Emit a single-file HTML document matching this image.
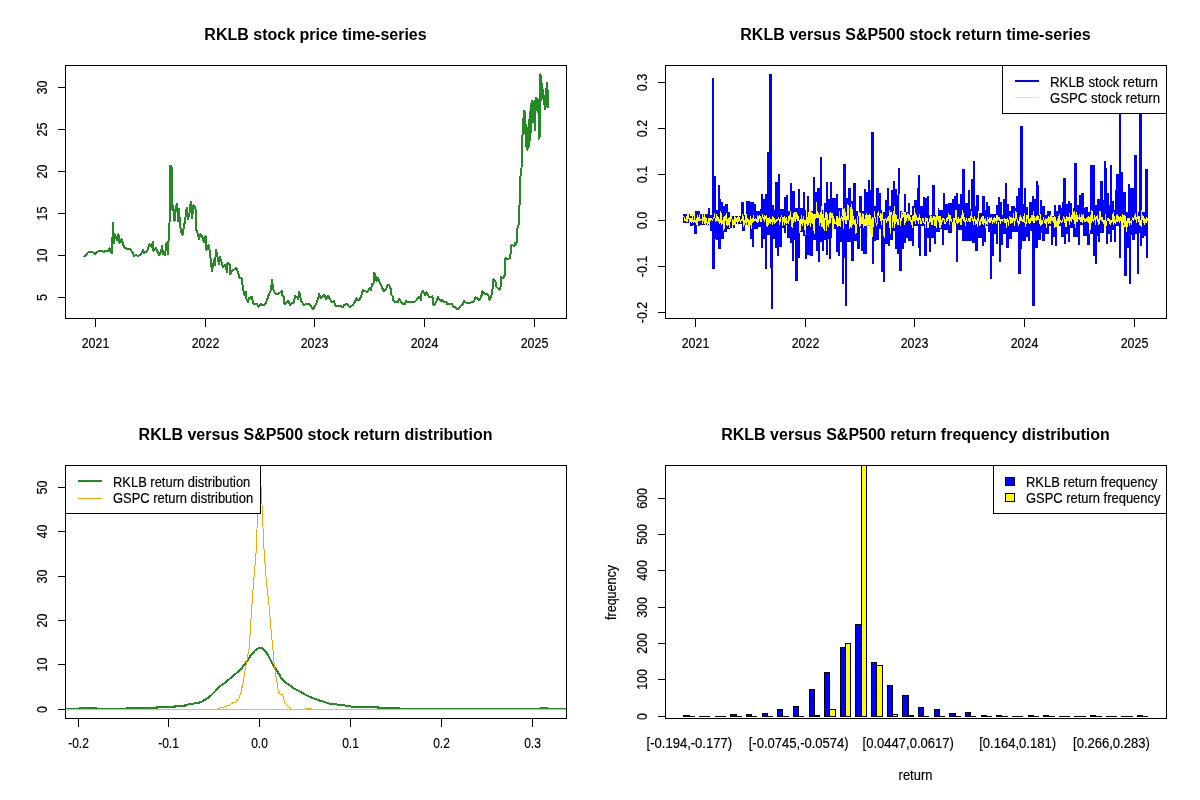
<!DOCTYPE html>
<html lang="en"><head><meta charset="utf-8"><title>RKLB versus S&amp;P500</title>
<style>
html,body{margin:0;padding:0;background:#fff;}
body{width:1200px;height:800px;overflow:hidden;}
svg{display:block;font-family:"Liberation Sans",sans-serif;fill:#000;}
svg text.r{stroke:#000;stroke-width:0.18px;}
svg line,svg rect,svg polyline,svg path{shape-rendering:crispEdges;}
</style></head><body>
<svg width="1200" height="800" viewBox="0 0 1200 800">
<rect x="0" y="0" width="1200" height="800" fill="#fff" stroke="none"/>
<defs>
<clipPath id="c1"><rect x="65" y="65" width="502" height="254"/></clipPath>
<clipPath id="c2"><rect x="665" y="65" width="502" height="254"/></clipPath>
<clipPath id="c3"><rect x="65" y="465" width="502" height="254"/></clipPath>
<clipPath id="c4"><rect x="665" y="465" width="502" height="254"/></clipPath>
</defs>
<text transform="translate(315.5 40)" font-size="16" text-anchor="middle" font-weight="bold">RKLB stock price time-series</text>
<g clip-path="url(#c1)">
<polyline points="84.00,257.00 88.00,252.50 90.00,251.80 93.00,252.50 95.00,254.00 98.00,251.50 102.00,251.20 104.00,252.00 106.00,250.50 108.00,251.00 109.50,248.00 110.50,251.50 112.00,253.00 113.00,222.50 114.00,243.00 115.00,235.00 117.00,240.00 118.50,234.50 119.50,243.00 121.50,239.50 124.00,247.00 127.00,249.00 130.00,249.00 132.00,251.50 134.00,256.00 136.00,255.00 138.50,256.00 141.00,254.00 143.00,250.00 144.00,253.00 147.00,251.50 149.50,244.00 151.50,247.00 153.00,241.50 153.50,251.00 156.00,248.00 159.00,255.00 161.00,252.00 162.00,245.50 163.00,254.00 165.00,255.00 166.50,243.00 168.00,254.00 168.50,241.00 169.50,225.00 170.00,165.50 171.50,166.00 172.00,183.00 172.50,210.00 173.00,206.00 174.50,221.00 175.50,209.00 177.00,203.50 178.00,221.00 179.00,209.00 180.00,225.00 181.50,233.00 182.50,235.00 183.50,229.00 185.00,221.00 186.80,207.50 188.00,219.00 189.50,213.00 190.80,202.00 192.00,218.00 193.50,205.00 195.00,206.50 196.00,212.00 196.30,230.00 197.50,233.00 199.00,239.00 200.50,234.00 202.00,236.00 204.00,242.00 205.50,236.00 206.50,250.00 208.50,245.00 210.00,253.00 212.00,271.00 214.00,260.00 215.00,265.00 216.00,249.50 219.00,264.00 220.00,257.00 223.00,267.00 225.00,265.00 227.00,272.00 227.50,263.00 229.50,264.00 230.00,274.00 233.00,270.00 236.50,268.00 238.00,272.00 239.50,278.00 241.50,278.00 243.00,289.00 244.50,295.00 246.00,292.00 246.50,299.00 248.00,302.00 249.00,298.00 252.00,297.00 253.00,303.00 254.00,304.50 257.00,304.00 258.50,307.00 261.00,304.00 263.00,305.50 265.50,303.50 267.00,300.00 269.00,294.00 271.00,290.00 272.00,279.50 273.00,289.00 275.00,293.00 277.00,294.50 280.00,292.50 282.00,290.50 282.50,296.00 284.00,297.00 284.50,304.00 286.50,303.00 288.00,300.50 290.00,305.00 292.00,303.00 294.00,302.50 295.00,296.00 297.50,297.00 298.00,299.00 299.20,291.50 300.50,298.00 301.50,301.50 304.00,305.00 306.50,304.00 309.00,304.00 311.50,307.00 313.00,309.00 315.00,306.00 317.00,302.00 318.50,297.00 319.00,293.50 320.00,297.50 322.00,297.50 324.00,294.50 326.00,299.00 328.00,296.00 330.00,299.00 332.00,302.50 334.00,301.00 335.00,305.50 340.00,305.50 343.00,307.50 344.00,305.00 347.00,304.00 349.00,306.50 350.50,306.50 353.00,305.00 355.00,301.50 356.50,298.00 358.00,300.50 360.00,299.00 361.50,295.00 363.00,290.00 365.00,291.00 367.50,292.00 369.50,288.50 371.00,290.00 372.00,284.00 373.50,283.50 374.00,272.50 375.50,276.00 376.50,281.00 378.00,278.00 380.00,283.00 382.00,287.00 383.50,291.00 386.00,289.50 387.50,285.00 389.00,284.50 390.50,288.50 391.50,295.00 393.00,296.50 393.50,301.00 395.50,302.50 398.00,302.00 399.00,299.00 401.00,301.50 402.50,304.00 405.00,304.00 406.00,301.00 408.00,302.00 414.00,302.50 416.50,300.00 419.00,296.50 421.00,300.00 421.50,293.00 423.00,290.50 425.00,295.50 426.50,292.00 429.00,297.00 432.50,296.50 433.00,304.50 435.00,304.50 438.00,297.00 440.50,301.00 442.00,300.00 444.00,302.00 446.00,301.50 447.50,304.50 450.00,304.00 452.00,304.00 453.00,306.50 455.00,307.00 456.50,309.00 458.50,308.50 461.00,305.50 463.00,304.00 464.00,301.00 466.00,302.50 470.00,303.00 474.00,301.50 475.50,297.00 479.00,300.00 481.00,297.50 482.50,291.50 484.50,294.00 488.00,294.50 489.50,300.00 491.50,295.00 492.50,289.50 493.50,279.00 495.50,282.00 496.50,287.00 499.50,290.00 500.50,287.00 501.00,277.00 503.00,278.00 505.00,275.00 505.50,258.00 507.50,259.00 510.00,258.00 511.00,250.00 511.50,245.00 514.50,246.00 515.00,242.50 516.50,244.00 517.00,230.00 518.50,225.00 519.30,215.50 520.00,180.00 521.50,168.00 522.00,144.00 523.00,126.00 524.00,110.50 524.80,112.00 525.20,133.00 525.80,125.00 526.30,146.00 527.00,132.00 527.50,149.70 528.30,128.00 528.80,146.00 529.30,120.00 529.80,140.00 530.30,112.00 530.80,132.00 531.30,104.00 531.80,122.00 532.00,100.50 532.60,118.00 533.20,102.00 533.80,122.00 534.30,104.00 534.70,130.50 535.20,103.00 535.75,97.50 536.30,108.00 536.80,99.00 537.30,110.00 537.80,101.00 538.30,112.00 538.60,100.00 538.75,138.75 539.30,108.00 539.70,136.00 540.10,92.00 540.50,74.25 541.00,100.00 541.30,80.00 541.80,92.00 542.30,84.00 542.80,98.00 543.30,90.00 543.80,104.00 544.30,96.00 544.80,108.00 545.20,109.50 545.60,92.00 546.00,106.00 546.70,82.50 547.20,104.00 547.60,90.00 547.90,107.00 548.00,100.00" fill="none" stroke="#228B22" stroke-width="2" stroke-linejoin="round" />
</g>
<rect x="65.5" y="65.5" width="501" height="253" fill="none" stroke="#000" stroke-width="1"/>
<line x1="95.5" y1="318" x2="95.5" y2="326.5" stroke="#000" stroke-width="1"/>
<text transform="translate(95.5 347.5) scale(0.87 1)" font-size="14.3" text-anchor="middle" class="r">2021</text>
<line x1="205.5" y1="318" x2="205.5" y2="326.5" stroke="#000" stroke-width="1"/>
<text transform="translate(205.5 347.5) scale(0.87 1)" font-size="14.3" text-anchor="middle" class="r">2022</text>
<line x1="314.5" y1="318" x2="314.5" y2="326.5" stroke="#000" stroke-width="1"/>
<text transform="translate(314.5 347.5) scale(0.87 1)" font-size="14.3" text-anchor="middle" class="r">2023</text>
<line x1="424.5" y1="318" x2="424.5" y2="326.5" stroke="#000" stroke-width="1"/>
<text transform="translate(424.5 347.5) scale(0.87 1)" font-size="14.3" text-anchor="middle" class="r">2024</text>
<line x1="534.5" y1="318" x2="534.5" y2="326.5" stroke="#000" stroke-width="1"/>
<text transform="translate(534.5 347.5) scale(0.87 1)" font-size="14.3" text-anchor="middle" class="r">2025</text>
<line x1="57.5" y1="297.5" x2="65.5" y2="297.5" stroke="#000" stroke-width="1"/>
<text transform="translate(47.3 297.5) rotate(-90) scale(0.87 1)" font-size="14.3" text-anchor="middle" class="r">5</text>
<line x1="57.5" y1="255.5" x2="65.5" y2="255.5" stroke="#000" stroke-width="1"/>
<text transform="translate(47.3 255.5) rotate(-90) scale(0.87 1)" font-size="14.3" text-anchor="middle" class="r">10</text>
<line x1="57.5" y1="213.5" x2="65.5" y2="213.5" stroke="#000" stroke-width="1"/>
<text transform="translate(47.3 213.5) rotate(-90) scale(0.87 1)" font-size="14.3" text-anchor="middle" class="r">15</text>
<line x1="57.5" y1="171.5" x2="65.5" y2="171.5" stroke="#000" stroke-width="1"/>
<text transform="translate(47.3 171.5) rotate(-90) scale(0.87 1)" font-size="14.3" text-anchor="middle" class="r">20</text>
<line x1="57.5" y1="129.5" x2="65.5" y2="129.5" stroke="#000" stroke-width="1"/>
<text transform="translate(47.3 129.5) rotate(-90) scale(0.87 1)" font-size="14.3" text-anchor="middle" class="r">25</text>
<line x1="57.5" y1="87.5" x2="65.5" y2="87.5" stroke="#000" stroke-width="1"/>
<text transform="translate(47.3 87.5) rotate(-90) scale(0.87 1)" font-size="14.3" text-anchor="middle" class="r">30</text>
<text transform="translate(915.5 40)" font-size="16" text-anchor="middle" font-weight="bold">RKLB versus S&amp;P500 stock return time-series</text>
<g clip-path="url(#c2)">
<path d="M683 214h1v9h-1zM684 214h1v9h-1zM685 214h1v9h-1zM686 214h1v9h-1zM687 214h1v9h-1zM688 214h1v9h-1zM689 214h1v9h-1zM690 216h1v10h-1zM691 216h1v10h-1zM692 216h1v10h-1zM693 216h1v9h-1zM694 211h1v23h-1zM695 211h1v23h-1zM696 211h1v23h-1zM697 211h1v15h-1zM698 211h1v15h-1zM699 211h1v15h-1zM700 214h1v11h-1zM701 214h1v11h-1zM702 214h1v11h-1zM703 214h1v11h-1zM704 214h1v11h-1zM705 214h1v11h-1zM706 214h1v11h-1zM707 214h1v11h-1zM708 208h1v17h-1zM709 208h1v17h-1zM710 215h1v16h-1zM711 215h1v16h-1zM712 78h1v191h-1zM713 78h1v191h-1zM714 176h1v93h-1zM715 176h1v63h-1zM716 210h1v30h-1zM717 210h1v30h-1zM718 185h1v64h-1zM719 185h1v64h-1zM720 199h1v50h-1zM721 202h1v37h-1zM722 202h1v37h-1zM723 206h1v33h-1zM724 206h1v26h-1zM725 204h1v28h-1zM726 204h1v28h-1zM727 204h1v25h-1zM728 212h1v17h-1zM729 212h1v17h-1zM730 216h1v12h-1zM731 216h1v12h-1zM732 216h1v12h-1zM733 216h1v12h-1zM734 216h1v12h-1zM735 216h1v8h-1zM736 216h1v8h-1zM737 216h1v8h-1zM738 216h1v8h-1zM739 216h1v8h-1zM740 216h1v8h-1zM741 202h1v22h-1zM742 202h1v29h-1zM743 202h1v29h-1zM744 215h1v16h-1zM745 215h1v10h-1zM746 201h1v24h-1zM747 201h1v24h-1zM748 201h1v24h-1zM749 201h1v24h-1zM750 202h1v37h-1zM751 202h1v37h-1zM752 202h1v45h-1zM753 202h1v45h-1zM754 204h1v25h-1zM755 204h1v25h-1zM756 211h1v18h-1zM757 211h1v18h-1zM758 211h1v16h-1zM759 211h1v16h-1zM760 209h1v18h-1zM761 194h1v54h-1zM762 194h1v54h-1zM763 199h1v40h-1zM764 199h1v40h-1zM765 194h1v75h-1zM766 194h1v75h-1zM767 152h1v83h-1zM768 152h1v83h-1zM769 74h1v161h-1zM770 74h1v194h-1zM771 74h1v235h-1zM772 205h1v104h-1zM773 205h1v34h-1zM774 210h1v29h-1zM775 182h1v66h-1zM776 182h1v66h-1zM777 182h1v74h-1zM778 174h1v82h-1zM779 174h1v73h-1zM780 209h1v38h-1zM781 209h1v38h-1zM782 209h1v19h-1zM783 209h1v19h-1zM784 197h1v36h-1zM785 197h1v36h-1zM786 195h1v30h-1zM787 195h1v43h-1zM788 211h1v27h-1zM789 211h1v27h-1zM790 183h1v60h-1zM791 183h1v60h-1zM792 191h1v70h-1zM793 191h1v70h-1zM794 191h1v49h-1zM795 208h1v73h-1zM796 208h1v73h-1zM797 208h1v73h-1zM798 189h1v69h-1zM799 189h1v69h-1zM800 208h1v24h-1zM801 208h1v24h-1zM802 208h1v24h-1zM803 192h1v44h-1zM804 192h1v44h-1zM805 210h1v49h-1zM806 210h1v49h-1zM807 196h1v59h-1zM808 196h1v59h-1zM809 211h1v44h-1zM810 211h1v45h-1zM811 211h1v45h-1zM812 211h1v45h-1zM813 177h1v63h-1zM814 177h1v63h-1zM815 192h1v48h-1zM816 192h1v59h-1zM817 188h1v63h-1zM818 188h1v74h-1zM819 188h1v74h-1zM820 157h1v85h-1zM821 157h1v85h-1zM822 210h1v41h-1zM823 210h1v41h-1zM824 203h1v37h-1zM825 203h1v37h-1zM826 182h1v73h-1zM827 182h1v73h-1zM828 199h1v40h-1zM829 199h1v60h-1zM830 182h1v77h-1zM831 182h1v56h-1zM832 198h1v31h-1zM833 198h1v31h-1zM834 198h1v31h-1zM835 198h1v31h-1zM836 194h1v58h-1zM837 194h1v58h-1zM838 208h1v48h-1zM839 208h1v48h-1zM840 208h1v34h-1zM841 208h1v34h-1zM842 216h1v68h-1zM843 164h1v120h-1zM844 164h1v94h-1zM845 164h1v142h-1zM846 198h1v108h-1zM847 198h1v44h-1zM848 188h1v54h-1zM849 188h1v54h-1zM850 188h1v54h-1zM851 201h1v60h-1zM852 201h1v60h-1zM853 183h1v78h-1zM854 183h1v58h-1zM855 183h1v58h-1zM856 211h1v30h-1zM857 211h1v38h-1zM858 211h1v38h-1zM859 196h1v53h-1zM860 196h1v32h-1zM861 196h1v55h-1zM862 211h1v40h-1zM863 211h1v43h-1zM864 189h1v65h-1zM865 189h1v65h-1zM866 192h1v62h-1zM867 192h1v34h-1zM868 180h1v46h-1zM869 180h1v49h-1zM870 190h1v39h-1zM871 132h1v97h-1zM872 132h1v132h-1zM873 132h1v132h-1zM874 206h1v35h-1zM875 206h1v35h-1zM876 188h1v52h-1zM877 188h1v52h-1zM878 188h1v52h-1zM879 193h1v36h-1zM880 193h1v36h-1zM881 210h1v62h-1zM882 212h1v60h-1zM883 212h1v70h-1zM884 212h1v70h-1zM885 200h1v44h-1zM886 200h1v44h-1zM887 188h1v56h-1zM888 188h1v58h-1zM889 206h1v40h-1zM890 206h1v34h-1zM891 190h1v50h-1zM892 190h1v50h-1zM893 181h1v50h-1zM894 181h1v50h-1zM895 189h1v60h-1zM896 189h1v60h-1zM897 195h1v59h-1zM898 168h1v86h-1zM899 168h1v103h-1zM900 211h1v60h-1zM901 211h1v60h-1zM902 213h1v36h-1zM903 213h1v36h-1zM904 194h1v49h-1zM905 194h1v49h-1zM906 212h1v26h-1zM907 212h1v26h-1zM908 203h1v38h-1zM909 203h1v38h-1zM910 215h1v26h-1zM911 215h1v26h-1zM912 206h1v40h-1zM913 206h1v40h-1zM914 200h1v26h-1zM915 200h1v26h-1zM916 200h1v26h-1zM917 188h1v38h-1zM918 175h1v73h-1zM919 175h1v81h-1zM920 206h1v50h-1zM921 206h1v20h-1zM922 206h1v20h-1zM923 197h1v29h-1zM924 197h1v59h-1zM925 198h1v58h-1zM926 198h1v58h-1zM927 196h1v42h-1zM928 196h1v42h-1zM929 215h1v37h-1zM930 215h1v37h-1zM931 215h1v23h-1zM932 185h1v53h-1zM933 185h1v53h-1zM934 185h1v59h-1zM935 215h1v29h-1zM936 215h1v17h-1zM937 215h1v17h-1zM938 208h1v24h-1zM939 210h1v22h-1zM940 210h1v19h-1zM941 210h1v19h-1zM942 210h1v35h-1zM943 193h1v52h-1zM944 193h1v37h-1zM945 204h1v26h-1zM946 204h1v26h-1zM947 204h1v26h-1zM948 203h1v30h-1zM949 203h1v30h-1zM950 203h1v30h-1zM951 203h1v30h-1zM952 199h1v24h-1zM953 199h1v24h-1zM954 196h1v27h-1zM955 196h1v27h-1zM956 193h1v69h-1zM957 193h1v69h-1zM958 204h1v26h-1zM959 204h1v26h-1zM960 194h1v36h-1zM961 194h1v36h-1zM962 169h1v72h-1zM963 169h1v72h-1zM964 169h1v72h-1zM965 203h1v38h-1zM966 203h1v38h-1zM967 203h1v38h-1zM968 190h1v51h-1zM969 190h1v51h-1zM970 209h1v32h-1zM971 179h1v62h-1zM972 179h1v64h-1zM973 161h1v82h-1zM974 161h1v82h-1zM975 206h1v45h-1zM976 195h1v56h-1zM977 195h1v56h-1zM978 195h1v43h-1zM979 213h1v25h-1zM980 213h1v25h-1zM981 213h1v25h-1zM982 196h1v50h-1zM983 196h1v50h-1zM984 196h1v46h-1zM985 210h1v32h-1zM986 202h1v24h-1zM987 202h1v24h-1zM988 206h1v26h-1zM989 206h1v26h-1zM990 214h1v65h-1zM991 214h1v65h-1zM992 214h1v42h-1zM993 214h1v42h-1zM994 214h1v20h-1zM995 214h1v20h-1zM996 205h1v39h-1zM997 205h1v39h-1zM998 197h1v25h-1zM999 197h1v65h-1zM1000 202h1v60h-1zM1001 202h1v43h-1zM1002 215h1v30h-1zM1003 199h1v35h-1zM1004 199h1v35h-1zM1005 183h1v51h-1zM1006 183h1v65h-1zM1007 204h1v44h-1zM1008 204h1v44h-1zM1009 211h1v28h-1zM1010 211h1v28h-1zM1011 206h1v33h-1zM1012 206h1v26h-1zM1013 206h1v26h-1zM1014 206h1v26h-1zM1015 208h1v24h-1zM1016 196h1v36h-1zM1017 196h1v36h-1zM1018 188h1v86h-1zM1019 188h1v86h-1zM1020 126h1v148h-1zM1021 126h1v123h-1zM1022 126h1v115h-1zM1023 204h1v37h-1zM1024 188h1v53h-1zM1025 188h1v53h-1zM1026 207h1v30h-1zM1027 207h1v30h-1zM1028 215h1v26h-1zM1029 202h1v39h-1zM1030 202h1v29h-1zM1031 202h1v29h-1zM1032 196h1v110h-1zM1033 196h1v110h-1zM1034 199h1v107h-1zM1035 199h1v49h-1zM1036 181h1v67h-1zM1037 181h1v67h-1zM1038 185h1v55h-1zM1039 215h1v25h-1zM1040 200h1v40h-1zM1041 200h1v33h-1zM1042 206h1v35h-1zM1043 206h1v35h-1zM1044 206h1v35h-1zM1045 215h1v19h-1zM1046 215h1v19h-1zM1047 211h1v23h-1zM1048 211h1v23h-1zM1049 211h1v15h-1zM1050 211h1v15h-1zM1051 216h1v29h-1zM1052 216h1v29h-1zM1053 216h1v21h-1zM1054 205h1v32h-1zM1055 205h1v41h-1zM1056 211h1v35h-1zM1057 211h1v15h-1zM1058 205h1v21h-1zM1059 205h1v21h-1zM1060 205h1v21h-1zM1061 208h1v29h-1zM1062 202h1v35h-1zM1063 178h1v59h-1zM1064 178h1v66h-1zM1065 178h1v66h-1zM1066 204h1v30h-1zM1067 204h1v30h-1zM1068 201h1v41h-1zM1069 201h1v41h-1zM1070 203h1v25h-1zM1071 203h1v25h-1zM1072 208h1v20h-1zM1073 208h1v29h-1zM1074 163h1v74h-1zM1075 163h1v74h-1zM1076 163h1v74h-1zM1077 205h1v32h-1zM1078 205h1v40h-1zM1079 195h1v50h-1zM1080 195h1v30h-1zM1081 193h1v32h-1zM1082 193h1v32h-1zM1083 193h1v43h-1zM1084 208h1v28h-1zM1085 207h1v29h-1zM1086 207h1v29h-1zM1087 207h1v38h-1zM1088 212h1v33h-1zM1089 212h1v33h-1zM1090 165h1v69h-1zM1091 165h1v69h-1zM1092 165h1v69h-1zM1093 165h1v91h-1zM1094 165h1v91h-1zM1095 205h1v59h-1zM1096 205h1v59h-1zM1097 199h1v37h-1zM1098 199h1v43h-1zM1099 199h1v43h-1zM1100 181h1v52h-1zM1101 181h1v52h-1zM1102 181h1v52h-1zM1103 200h1v33h-1zM1104 161h1v61h-1zM1105 161h1v61h-1zM1106 168h1v76h-1zM1107 193h1v51h-1zM1108 193h1v41h-1zM1109 205h1v29h-1zM1110 165h1v77h-1zM1111 165h1v77h-1zM1112 201h1v29h-1zM1113 201h1v29h-1zM1114 210h1v32h-1zM1115 190h1v52h-1zM1116 174h1v52h-1zM1117 174h1v52h-1zM1118 174h1v52h-1zM1119 100h1v158h-1zM1120 100h1v158h-1zM1121 172h1v53h-1zM1122 172h1v53h-1zM1123 192h1v33h-1zM1124 192h1v84h-1zM1125 192h1v84h-1zM1126 212h1v64h-1zM1127 212h1v36h-1zM1128 184h1v64h-1zM1129 184h1v100h-1zM1130 188h1v96h-1zM1131 188h1v47h-1zM1132 188h1v52h-1zM1133 188h1v52h-1zM1134 155h1v85h-1zM1135 155h1v79h-1zM1136 155h1v79h-1zM1137 212h1v62h-1zM1138 212h1v62h-1zM1139 100h1v133h-1zM1140 100h1v146h-1zM1141 100h1v146h-1zM1142 212h1v26h-1zM1143 212h1v26h-1zM1144 212h1v24h-1zM1145 169h1v67h-1zM1146 169h1v89h-1zM1147 169h1v89h-1z" fill="#0000FF"/>
<polyline points="683.50,217.39 683.94,216.40 684.38,220.58 684.82,219.13 685.26,220.93 685.70,219.44 686.14,219.19 686.58,221.25 687.02,216.21 687.46,221.16 687.90,210.53 688.34,218.21 688.78,218.02 689.22,218.18 689.66,223.59 690.10,221.98 690.54,218.94 690.98,219.50 691.42,222.22 691.86,218.77 692.30,221.53 692.74,214.87 693.18,223.14 693.62,222.62 694.06,221.86 694.50,211.82 694.94,219.82 695.37,221.60 695.81,222.38 696.25,224.30 696.69,222.88 697.13,215.68 697.57,225.37 698.01,217.33 698.45,220.44 698.89,220.80 699.33,214.39 699.77,220.14 700.21,220.21 700.65,220.45 701.09,219.13 701.53,219.21 701.97,219.86 702.41,214.97 702.85,223.46 703.29,217.94 703.73,218.32 704.17,221.71 704.61,214.32 705.05,224.87 705.49,219.66 705.93,217.75 706.37,219.92 706.81,219.63 707.25,226.62 707.69,222.87 708.13,223.20 708.57,222.90 709.01,218.01 709.45,225.84 709.89,221.02 710.33,219.08 710.77,218.05 711.21,219.07 711.65,219.84 712.09,219.88 712.53,220.34 712.97,219.05 713.41,218.55 713.85,218.08 714.29,215.76 714.73,213.19 715.17,221.15 715.61,219.77 716.05,220.42 716.49,214.34 716.93,216.43 717.37,221.00 717.81,216.31 718.25,218.87 718.68,221.18 719.12,222.08 719.56,219.40 720.00,223.53 720.44,218.99 720.88,210.99 721.32,216.74 721.76,225.05 722.20,222.67 722.64,220.21 723.08,220.32 723.52,217.64 723.96,230.91 724.40,216.11 724.84,222.20 725.28,218.32 725.72,218.73 726.16,213.26 726.60,224.19 727.04,219.34 727.48,223.37 727.92,225.41 728.36,221.74 728.80,219.64 729.24,217.41 729.68,227.43 730.12,215.39 730.56,221.47 731.00,216.15 731.44,214.66 731.88,216.05 732.32,227.28 732.76,221.40 733.20,220.37 733.64,223.47 734.08,224.79 734.52,216.05 734.96,223.91 735.40,220.49 735.84,217.78 736.28,221.27 736.72,218.62 737.16,223.70 737.60,218.20 738.04,216.85 738.48,221.63 738.92,216.72 739.36,219.52 739.80,219.34 740.24,221.64 740.68,222.37 741.12,220.82 741.55,219.60 741.99,221.27 742.43,220.76 742.87,214.86 743.31,219.49 743.75,226.44 744.19,223.46 744.63,220.02 745.07,223.21 745.51,221.07 745.95,214.84 746.39,224.87 746.83,214.57 747.27,221.88 747.71,220.98 748.15,219.49 748.59,222.42 749.03,227.48 749.47,220.82 749.91,224.17 750.35,216.49 750.79,220.61 751.23,228.87 751.67,219.18 752.11,223.15 752.55,218.41 752.99,221.88 753.43,215.58 753.87,220.43 754.31,219.69 754.75,220.98 755.19,220.04 755.63,218.52 756.07,220.15 756.51,219.47 756.95,222.22 757.39,215.24 757.83,222.80 758.27,216.53 758.71,221.78 759.15,215.66 759.59,218.30 760.03,216.00 760.47,221.49 760.91,219.22 761.35,221.34 761.79,221.90 762.23,214.58 762.67,217.40 763.11,217.26 763.55,219.40 763.99,219.09 764.43,221.60 764.86,215.18 765.30,218.70 765.74,217.43 766.18,215.10 766.62,219.44 767.06,226.75 767.50,218.80 767.94,223.06 768.38,218.46 768.82,224.43 769.26,220.22 769.70,217.60 770.14,223.94 770.58,220.47 771.02,219.09 771.46,220.03 771.90,222.18 772.34,216.64 772.78,224.94 773.22,219.78 773.66,217.43 774.10,222.09 774.54,218.61 774.98,223.45 775.42,220.98 775.86,219.99 776.30,219.79 776.74,221.89 777.18,219.93 777.62,220.01 778.06,218.62 778.50,217.40 778.94,219.54 779.38,224.77 779.82,220.80 780.26,217.76 780.70,221.93 781.14,215.21 781.58,216.05 782.02,216.70 782.46,225.29 782.90,219.28 783.34,221.40 783.78,217.17 784.22,224.52 784.66,216.38 785.10,222.71 785.54,218.34 785.98,219.59 786.42,217.95 786.86,223.16 787.30,221.35 787.74,223.02 788.17,219.94 788.61,223.41 789.05,215.46 789.49,217.94 789.93,220.37 790.37,211.79 790.81,214.09 791.25,220.79 791.69,223.38 792.13,227.77 792.57,217.38 793.01,218.57 793.45,222.09 793.89,213.75 794.33,220.79 794.77,212.43 795.21,221.44 795.65,214.02 796.09,212.05 796.53,212.67 796.97,218.45 797.41,220.27 797.85,214.50 798.29,221.00 798.73,216.63 799.17,221.06 799.61,232.21 800.05,221.78 800.49,230.41 800.93,220.48 801.37,215.24 801.81,223.39 802.25,225.41 802.69,219.61 803.13,222.35 803.57,216.25 804.01,219.86 804.45,229.53 804.89,224.06 805.33,230.46 805.77,234.35 806.21,208.38 806.65,223.54 807.09,218.13 807.53,217.80 807.97,225.84 808.41,220.49 808.85,213.90 809.29,209.83 809.73,222.75 810.17,209.65 810.61,226.10 811.05,212.11 811.48,217.40 811.92,222.45 812.36,223.16 812.80,213.28 813.24,215.81 813.68,220.85 814.12,233.66 814.56,221.92 815.00,213.79 815.44,218.09 815.88,215.03 816.32,217.85 816.76,201.95 817.20,217.79 817.64,217.37 818.08,216.77 818.52,217.88 818.96,213.53 819.40,225.36 819.84,224.75 820.28,220.64 820.72,222.17 821.16,206.89 821.60,226.79 822.04,227.21 822.48,219.85 822.92,214.81 823.36,209.99 823.80,228.23 824.24,222.60 824.68,230.27 825.12,214.88 825.56,219.89 826.00,211.60 826.44,230.54 826.88,216.44 827.32,214.85 827.76,222.04 828.20,227.06 828.64,221.26 829.08,220.36 829.52,213.54 829.96,223.40 830.40,219.98 830.84,212.73 831.28,214.35 831.72,217.27 832.16,218.77 832.60,213.16 833.04,232.25 833.48,216.79 833.92,225.97 834.35,219.33 834.79,221.92 835.23,224.05 835.67,222.30 836.11,224.58 836.55,216.68 836.99,221.54 837.43,226.60 837.87,216.25 838.31,220.31 838.75,225.86 839.19,225.78 839.63,211.26 840.07,219.62 840.51,226.91 840.95,218.52 841.39,216.59 841.83,217.21 842.27,220.80 842.71,217.15 843.15,220.35 843.59,228.34 844.03,208.75 844.47,208.23 844.91,220.08 845.35,212.22 845.79,223.17 846.23,223.43 846.67,216.53 847.11,215.82 847.55,219.83 847.99,204.44 848.43,210.78 848.87,215.83 849.31,228.33 849.75,224.70 850.19,218.55 850.63,226.97 851.07,203.90 851.51,216.64 851.95,227.86 852.39,209.43 852.83,215.56 853.27,216.21 853.71,222.63 854.15,224.76 854.59,222.54 855.03,219.97 855.47,219.47 855.91,233.30 856.35,228.90 856.79,232.38 857.23,216.63 857.66,219.94 858.10,214.56 858.54,213.71 858.98,211.62 859.42,218.92 859.86,226.72 860.30,225.59 860.74,213.19 861.18,219.83 861.62,223.70 862.06,224.13 862.50,222.32 862.94,213.33 863.38,220.20 863.82,227.83 864.26,219.82 864.70,225.98 865.14,216.40 865.58,215.64 866.02,226.01 866.46,221.67 866.90,213.63 867.34,218.71 867.78,236.90 868.22,214.95 868.66,224.31 869.10,213.91 869.54,220.18 869.98,228.72 870.42,232.60 870.86,215.84 871.30,234.50 871.74,220.59 872.18,217.46 872.62,236.69 873.06,225.71 873.50,226.09 873.94,218.67 874.38,211.00 874.82,215.71 875.26,221.79 875.70,217.86 876.14,225.84 876.58,224.18 877.02,223.44 877.46,213.19 877.90,217.31 878.34,211.31 878.78,215.84 879.22,216.89 879.66,217.37 880.10,218.27 880.54,220.80 880.97,212.85 881.41,224.23 881.85,221.82 882.29,211.91 882.73,220.00 883.17,219.74 883.61,219.03 884.05,237.90 884.49,227.65 884.93,219.44 885.37,219.16 885.81,218.06 886.25,221.07 886.69,222.73 887.13,219.98 887.57,217.74 888.01,220.99 888.45,216.63 888.89,220.59 889.33,210.37 889.77,220.79 890.21,233.76 890.65,212.83 891.09,215.17 891.53,212.42 891.97,214.51 892.41,227.69 892.85,224.82 893.29,216.31 893.73,219.75 894.17,206.41 894.61,227.74 895.05,223.14 895.49,214.86 895.93,215.30 896.37,221.72 896.81,214.96 897.25,222.87 897.69,224.51 898.13,224.19 898.57,223.87 899.01,218.86 899.45,194.90 899.89,217.83 900.33,218.25 900.77,225.53 901.21,217.75 901.65,212.77 902.09,215.85 902.53,214.28 902.97,217.90 903.41,209.04 903.85,207.39 904.28,218.59 904.72,224.96 905.16,212.18 905.60,222.06 906.04,218.70 906.48,220.46 906.92,215.74 907.36,213.46 907.80,217.26 908.24,214.34 908.68,220.25 909.12,215.64 909.56,219.02 910.00,216.66 910.44,218.17 910.88,221.24 911.32,224.93 911.76,220.88 912.20,227.33 912.64,222.59 913.08,214.83 913.52,220.12 913.96,220.92 914.40,208.96 914.84,219.54 915.28,223.77 915.72,213.54 916.16,217.91 916.60,215.14 917.04,220.38 917.48,218.96 917.92,219.89 918.36,223.83 918.80,216.93 919.24,219.15 919.68,214.71 920.12,220.95 920.56,218.55 921.00,224.05 921.44,222.31 921.88,221.81 922.32,219.39 922.76,218.94 923.20,218.60 923.64,218.68 924.08,223.48 924.52,222.74 924.96,223.56 925.40,227.85 925.84,216.97 926.28,219.01 926.72,220.52 927.15,219.80 927.59,218.66 928.03,228.03 928.47,222.59 928.91,223.23 929.35,222.59 929.79,218.49 930.23,217.14 930.67,215.07 931.11,223.93 931.55,216.57 931.99,224.84 932.43,222.36 932.87,219.14 933.31,216.74 933.75,219.11 934.19,216.70 934.63,224.59 935.07,225.74 935.51,217.42 935.95,225.75 936.39,227.16 936.83,215.26 937.27,219.63 937.71,214.29 938.15,221.93 938.59,222.00 939.03,215.99 939.47,221.77 939.91,228.21 940.35,216.93 940.79,227.74 941.23,220.64 941.67,224.52 942.11,220.94 942.55,221.58 942.99,218.21 943.43,219.42 943.87,219.35 944.31,219.22 944.75,223.61 945.19,224.05 945.63,222.78 946.07,221.74 946.51,218.87 946.95,221.30 947.39,217.22 947.83,220.49 948.27,213.08 948.71,218.40 949.15,217.59 949.59,224.43 950.03,214.95 950.46,216.40 950.90,220.56 951.34,219.56 951.78,220.64 952.22,223.27 952.66,231.61 953.10,220.07 953.54,223.19 953.98,217.89 954.42,221.16 954.86,224.19 955.30,210.55 955.74,216.30 956.18,218.09 956.62,210.19 957.06,224.08 957.50,219.66 957.94,223.22 958.38,219.79 958.82,217.14 959.26,220.92 959.70,221.64 960.14,219.88 960.58,218.75 961.02,224.63 961.46,221.87 961.90,217.39 962.34,210.48 962.78,216.50 963.22,220.46 963.66,213.15 964.10,218.19 964.54,221.43 964.98,219.75 965.42,225.17 965.86,220.75 966.30,218.28 966.74,220.00 967.18,221.82 967.62,221.34 968.06,220.68 968.50,219.64 968.94,217.85 969.38,218.89 969.82,221.42 970.26,221.67 970.70,216.51 971.14,216.71 971.58,211.95 972.02,218.48 972.46,220.24 972.90,217.52 973.34,224.82 973.77,220.87 974.21,221.04 974.65,216.79 975.09,219.23 975.53,224.36 975.97,219.91 976.41,222.45 976.85,221.85 977.29,226.11 977.73,218.15 978.17,219.22 978.61,211.57 979.05,221.80 979.49,225.76 979.93,222.52 980.37,219.12 980.81,224.71 981.25,217.24 981.69,219.90 982.13,216.59 982.57,223.88 983.01,215.65 983.45,222.99 983.89,224.41 984.33,219.03 984.77,220.04 985.21,218.41 985.65,227.24 986.09,223.41 986.53,221.68 986.97,223.69 987.41,224.44 987.85,217.85 988.29,220.59 988.73,219.77 989.17,222.57 989.61,217.54 990.05,219.02 990.49,222.77 990.93,218.29 991.37,220.11 991.81,217.66 992.25,223.54 992.69,220.27 993.13,219.51 993.57,218.29 994.01,222.26 994.45,222.55 994.89,217.04 995.33,220.56 995.77,218.47 996.21,223.14 996.65,215.69 997.08,215.68 997.52,220.46 997.96,216.86 998.40,219.81 998.84,219.69 999.28,219.82 999.72,217.23 1000.16,222.91 1000.60,223.41 1001.04,218.80 1001.48,220.76 1001.92,219.29 1002.36,221.59 1002.80,219.42 1003.24,219.82 1003.68,219.90 1004.12,218.44 1004.56,219.42 1005.00,222.77 1005.44,219.08 1005.88,222.97 1006.32,218.99 1006.76,227.55 1007.20,218.79 1007.64,221.67 1008.08,220.07 1008.52,225.53 1008.96,220.11 1009.40,217.61 1009.84,216.60 1010.28,218.59 1010.72,223.93 1011.16,219.82 1011.60,217.93 1012.04,222.96 1012.48,218.21 1012.92,222.55 1013.36,213.06 1013.80,217.80 1014.24,223.69 1014.68,225.10 1015.12,216.05 1015.56,220.34 1016.00,211.50 1016.44,218.81 1016.88,217.90 1017.32,222.26 1017.76,219.61 1018.20,222.11 1018.64,225.62 1019.08,221.92 1019.52,223.05 1019.95,217.72 1020.39,215.23 1020.83,220.64 1021.27,221.02 1021.71,217.41 1022.15,219.70 1022.59,220.81 1023.03,221.55 1023.47,220.19 1023.91,217.21 1024.35,213.11 1024.79,218.17 1025.23,226.79 1025.67,223.40 1026.11,223.48 1026.55,218.78 1026.99,215.23 1027.43,218.25 1027.87,218.68 1028.31,215.84 1028.75,222.33 1029.19,218.95 1029.63,223.95 1030.07,222.40 1030.51,218.56 1030.95,218.91 1031.39,220.34 1031.83,215.56 1032.27,215.89 1032.71,220.76 1033.15,219.72 1033.59,211.48 1034.03,223.37 1034.47,216.17 1034.91,217.11 1035.35,219.58 1035.79,219.87 1036.23,218.54 1036.67,220.39 1037.11,214.77 1037.55,219.32 1037.99,219.50 1038.43,218.94 1038.87,216.67 1039.31,224.03 1039.75,220.81 1040.19,225.70 1040.63,214.88 1041.07,221.04 1041.51,223.39 1041.95,224.75 1042.39,220.15 1042.83,223.13 1043.26,217.01 1043.70,218.76 1044.14,220.70 1044.58,221.52 1045.02,222.70 1045.46,223.51 1045.90,218.14 1046.34,227.50 1046.78,220.20 1047.22,218.06 1047.66,218.54 1048.10,222.47 1048.54,216.32 1048.98,223.73 1049.42,217.50 1049.86,221.94 1050.30,215.23 1050.74,223.47 1051.18,220.18 1051.62,216.52 1052.06,219.18 1052.50,220.52 1052.94,217.07 1053.38,223.03 1053.82,217.02 1054.26,227.58 1054.70,216.36 1055.14,217.80 1055.58,219.89 1056.02,227.41 1056.46,221.49 1056.90,223.16 1057.34,219.86 1057.78,225.64 1058.22,217.96 1058.66,225.12 1059.10,214.52 1059.54,223.97 1059.98,221.68 1060.42,221.02 1060.86,220.83 1061.30,222.83 1061.74,221.73 1062.18,220.10 1062.62,221.70 1063.06,218.81 1063.50,217.47 1063.94,216.27 1064.38,219.06 1064.82,219.72 1065.26,226.86 1065.70,219.54 1066.14,226.91 1066.57,216.38 1067.01,217.48 1067.45,220.46 1067.89,219.33 1068.33,218.67 1068.77,217.43 1069.21,224.24 1069.65,213.19 1070.09,218.18 1070.53,217.48 1070.97,220.53 1071.41,215.26 1071.85,221.20 1072.29,215.38 1072.73,208.07 1073.17,217.48 1073.61,219.30 1074.05,211.41 1074.49,223.38 1074.93,221.07 1075.37,227.44 1075.81,216.56 1076.25,212.75 1076.69,221.21 1077.13,215.77 1077.57,221.02 1078.01,217.67 1078.45,218.73 1078.89,217.81 1079.33,214.77 1079.77,219.49 1080.21,217.84 1080.65,221.57 1081.09,217.63 1081.53,221.04 1081.97,214.29 1082.41,222.59 1082.85,223.12 1083.29,214.80 1083.73,218.47 1084.17,218.11 1084.61,221.61 1085.05,220.89 1085.49,221.50 1085.93,218.91 1086.37,220.89 1086.81,218.21 1087.25,218.59 1087.69,221.42 1088.13,216.10 1088.57,222.85 1089.01,220.46 1089.45,217.46 1089.88,233.90 1090.32,220.98 1090.76,221.59 1091.20,210.90 1091.64,222.33 1092.08,211.25 1092.52,220.86 1092.96,218.40 1093.40,221.95 1093.84,220.25 1094.28,218.51 1094.72,215.77 1095.16,219.25 1095.60,224.97 1096.04,216.12 1096.48,217.58 1096.92,218.68 1097.36,215.61 1097.80,221.79 1098.24,220.98 1098.68,224.24 1099.12,217.07 1099.56,223.08 1100.00,210.98 1100.44,212.82 1100.88,219.21 1101.32,220.25 1101.76,217.83 1102.20,218.29 1102.64,217.23 1103.08,223.39 1103.52,220.34 1103.96,221.22 1104.40,229.60 1104.84,220.67 1105.28,222.98 1105.72,214.29 1106.16,225.66 1106.60,223.85 1107.04,220.67 1107.48,219.34 1107.92,217.87 1108.36,219.57 1108.80,220.63 1109.24,219.69 1109.68,219.32 1110.12,224.89 1110.56,220.62 1111.00,220.24 1111.44,220.86 1111.88,222.52 1112.32,219.91 1112.75,217.07 1113.19,211.90 1113.63,224.72 1114.07,222.27 1114.51,216.93 1114.95,221.13 1115.39,223.11 1115.83,220.77 1116.27,221.17 1116.71,217.86 1117.15,214.09 1117.59,221.05 1118.03,219.28 1118.47,220.78 1118.91,216.15 1119.35,220.88 1119.79,222.53 1120.23,216.90 1120.67,220.56 1121.11,219.92 1121.55,217.79 1121.99,227.41 1122.43,214.87 1122.87,224.37 1123.31,220.38 1123.75,215.04 1124.19,215.89 1124.63,221.97 1125.07,227.17 1125.51,216.68 1125.95,220.89 1126.39,221.21 1126.83,231.90 1127.27,220.12 1127.71,218.91 1128.15,218.56 1128.59,222.12 1129.03,218.42 1129.47,225.84 1129.91,221.68 1130.35,221.17 1130.79,221.66 1131.23,224.16 1131.67,221.23 1132.11,219.79 1132.55,217.61 1132.99,220.33 1133.43,220.16 1133.87,219.40 1134.31,215.78 1134.75,217.20 1135.19,220.11 1135.63,213.91 1136.06,217.23 1136.50,222.56 1136.94,217.64 1137.38,218.63 1137.82,211.80 1138.26,221.47 1138.70,217.32 1139.14,216.37 1139.58,224.76 1140.02,220.13 1140.46,225.37 1140.90,221.75 1141.34,226.85 1141.78,210.70 1142.22,219.75 1142.66,215.79 1143.10,220.88 1143.54,216.81 1143.98,223.08 1144.42,224.91 1144.86,218.54 1145.30,222.90 1145.74,220.99 1146.18,217.67 1146.62,222.99 1147.06,220.50 1147.50,218.19" fill="none" stroke="#FFFF00" stroke-width="1" stroke-linejoin="round" />
</g>
<rect x="1002.5" y="65.5" width="164" height="48" fill="#fff" stroke="#000"/>
<line x1="1014.5" y1="81" x2="1039" y2="81" stroke="#0000FF" stroke-width="2"/>
<line x1="1014.5" y1="97.5" x2="1039" y2="97.5" stroke="#FFFF00" stroke-width="1"/>
<text transform="translate(1050 86.5) scale(0.93 1)" font-size="14.3" text-anchor="start" class="r">RKLB stock return</text>
<text transform="translate(1050 102.5) scale(0.924 1)" font-size="14.3" text-anchor="start" class="r">GSPC stock return</text>
<rect x="665.5" y="65.5" width="501" height="253" fill="none" stroke="#000" stroke-width="1"/>
<line x1="695.5" y1="318" x2="695.5" y2="326.5" stroke="#000" stroke-width="1"/>
<text transform="translate(695.5 347.5) scale(0.87 1)" font-size="14.3" text-anchor="middle" class="r">2021</text>
<line x1="805.5" y1="318" x2="805.5" y2="326.5" stroke="#000" stroke-width="1"/>
<text transform="translate(805.5 347.5) scale(0.87 1)" font-size="14.3" text-anchor="middle" class="r">2022</text>
<line x1="914.5" y1="318" x2="914.5" y2="326.5" stroke="#000" stroke-width="1"/>
<text transform="translate(914.5 347.5) scale(0.87 1)" font-size="14.3" text-anchor="middle" class="r">2023</text>
<line x1="1024.5" y1="318" x2="1024.5" y2="326.5" stroke="#000" stroke-width="1"/>
<text transform="translate(1024.5 347.5) scale(0.87 1)" font-size="14.3" text-anchor="middle" class="r">2024</text>
<line x1="1134.5" y1="318" x2="1134.5" y2="326.5" stroke="#000" stroke-width="1"/>
<text transform="translate(1134.5 347.5) scale(0.87 1)" font-size="14.3" text-anchor="middle" class="r">2025</text>
<line x1="657.5" y1="312.5" x2="665.5" y2="312.5" stroke="#000" stroke-width="1"/>
<text transform="translate(647.3 312.5) rotate(-90) scale(0.87 1)" font-size="14.3" text-anchor="middle" class="r">-0.2</text>
<line x1="657.5" y1="266.5" x2="665.5" y2="266.5" stroke="#000" stroke-width="1"/>
<text transform="translate(647.3 266.5) rotate(-90) scale(0.87 1)" font-size="14.3" text-anchor="middle" class="r">-0.1</text>
<line x1="657.5" y1="220.5" x2="665.5" y2="220.5" stroke="#000" stroke-width="1"/>
<text transform="translate(647.3 220.5) rotate(-90) scale(0.87 1)" font-size="14.3" text-anchor="middle" class="r">0.0</text>
<line x1="657.5" y1="174.5" x2="665.5" y2="174.5" stroke="#000" stroke-width="1"/>
<text transform="translate(647.3 174.5) rotate(-90) scale(0.87 1)" font-size="14.3" text-anchor="middle" class="r">0.1</text>
<line x1="657.5" y1="128.5" x2="665.5" y2="128.5" stroke="#000" stroke-width="1"/>
<text transform="translate(647.3 128.5) rotate(-90) scale(0.87 1)" font-size="14.3" text-anchor="middle" class="r">0.2</text>
<line x1="657.5" y1="82.5" x2="665.5" y2="82.5" stroke="#000" stroke-width="1"/>
<text transform="translate(647.3 82.5) rotate(-90) scale(0.87 1)" font-size="14.3" text-anchor="middle" class="r">0.3</text>
<text transform="translate(315.5 440)" font-size="16" text-anchor="middle" font-weight="bold">RKLB versus S&amp;P500 stock return distribution</text>
<g clip-path="url(#c3)">
<polyline points="64.00,709.00 80.00,709.00 80.00,708.00 96.00,708.00 96.00,709.00 126.70,709.00 126.70,708.00 157.30,708.00 157.30,707.00 174.70,707.00 174.70,706.00 185.30,706.00 185.30,705.00 190.00,704.00 194.00,703.50 199.00,702.80 203.00,701.00 207.00,698.50 211.00,695.50 215.00,691.50 219.00,687.00 224.00,683.50 229.00,679.50 234.00,675.00 239.00,671.00 243.00,666.50 247.00,661.00 251.00,655.00 255.00,650.50 258.00,648.50 260.00,647.80 262.00,648.20 265.00,650.50 268.00,655.00 271.00,661.00 274.00,666.50 277.00,671.00 280.00,675.50 281.00,678.00 285.00,682.00 290.00,685.50 294.00,688.50 300.00,691.50 305.00,694.50 310.00,697.00 320.00,700.70 330.00,703.70 340.00,704.80 350.00,706.25 352.00,707.00 378.00,707.00 378.00,708.00 399.00,708.00 399.00,709.00 540.50,709.00 540.50,708.00 547.50,708.00 547.50,709.00 568.00,709.00" fill="none" stroke="#228B22" stroke-width="2" stroke-linejoin="round" />
<line x1="65" y1="709.5" x2="567" y2="709.5" stroke="#BEBEBE" stroke-width="1"/>
<polyline points="217.00,709.00 220.00,708.00 225.00,706.80 230.00,705.00 233.00,702.50 236.00,702.00 239.00,698.00 241.00,692.00 243.00,683.00 244.50,674.00 246.00,665.00 247.50,657.00 249.00,649.00 249.70,640.00 251.25,615.00 253.75,580.00 256.25,550.00 257.50,515.00 259.00,495.00 260.50,486.00 261.25,488.00 262.50,515.00 263.75,545.00 266.25,580.00 268.75,602.50 272.00,640.00 273.00,650.00 274.00,663.00 275.00,670.00 276.00,677.00 277.50,685.00 278.50,692.00 280.00,694.00 282.50,694.50 283.50,698.00 285.00,703.00 287.50,705.50 290.50,708.80" fill="none" stroke="#FFA500" stroke-width="1" stroke-linejoin="round" />
<polyline points="305.00,708.90 306.00,708.25 311.00,708.25 312.00,708.90" fill="none" stroke="#FFA500" stroke-width="1" stroke-linejoin="round" />
</g>
<rect x="65.5" y="465.5" width="195" height="48" fill="#fff" stroke="#000"/>
<line x1="77.5" y1="481" x2="102" y2="481" stroke="#228B22" stroke-width="2"/>
<line x1="77.5" y1="498.5" x2="102" y2="498.5" stroke="#FFA500" stroke-width="1"/>
<text transform="translate(113 487) scale(0.905 1)" font-size="14.3" text-anchor="start" class="r">RKLB return distribution</text>
<text transform="translate(113 503) scale(0.905 1)" font-size="14.3" text-anchor="start" class="r">GSPC return distribution</text>
<rect x="65.5" y="465.5" width="501" height="253" fill="none" stroke="#000" stroke-width="1"/>
<line x1="78.5" y1="718" x2="78.5" y2="726.5" stroke="#000" stroke-width="1"/>
<text transform="translate(78.5 747.5) scale(0.84 1)" font-size="14.3" text-anchor="middle" class="r">-0.2</text>
<line x1="168.5" y1="718" x2="168.5" y2="726.5" stroke="#000" stroke-width="1"/>
<text transform="translate(168.5 747.5) scale(0.84 1)" font-size="14.3" text-anchor="middle" class="r">-0.1</text>
<line x1="259.5" y1="718" x2="259.5" y2="726.5" stroke="#000" stroke-width="1"/>
<text transform="translate(259.5 747.5) scale(0.84 1)" font-size="14.3" text-anchor="middle" class="r">0.0</text>
<line x1="350.5" y1="718" x2="350.5" y2="726.5" stroke="#000" stroke-width="1"/>
<text transform="translate(350.5 747.5) scale(0.84 1)" font-size="14.3" text-anchor="middle" class="r">0.1</text>
<line x1="441.5" y1="718" x2="441.5" y2="726.5" stroke="#000" stroke-width="1"/>
<text transform="translate(441.5 747.5) scale(0.84 1)" font-size="14.3" text-anchor="middle" class="r">0.2</text>
<line x1="532.5" y1="718" x2="532.5" y2="726.5" stroke="#000" stroke-width="1"/>
<text transform="translate(532.5 747.5) scale(0.84 1)" font-size="14.3" text-anchor="middle" class="r">0.3</text>
<line x1="57.5" y1="709.5" x2="65.5" y2="709.5" stroke="#000" stroke-width="1"/>
<text transform="translate(47.3 709.5) rotate(-90) scale(0.87 1)" font-size="14.3" text-anchor="middle" class="r">0</text>
<line x1="57.5" y1="664.5" x2="65.5" y2="664.5" stroke="#000" stroke-width="1"/>
<text transform="translate(47.3 664.5) rotate(-90) scale(0.87 1)" font-size="14.3" text-anchor="middle" class="r">10</text>
<line x1="57.5" y1="620.5" x2="65.5" y2="620.5" stroke="#000" stroke-width="1"/>
<text transform="translate(47.3 620.5) rotate(-90) scale(0.87 1)" font-size="14.3" text-anchor="middle" class="r">20</text>
<line x1="57.5" y1="576.5" x2="65.5" y2="576.5" stroke="#000" stroke-width="1"/>
<text transform="translate(47.3 576.5) rotate(-90) scale(0.87 1)" font-size="14.3" text-anchor="middle" class="r">30</text>
<line x1="57.5" y1="531.5" x2="65.5" y2="531.5" stroke="#000" stroke-width="1"/>
<text transform="translate(47.3 531.5) rotate(-90) scale(0.87 1)" font-size="14.3" text-anchor="middle" class="r">40</text>
<line x1="57.5" y1="487.5" x2="65.5" y2="487.5" stroke="#000" stroke-width="1"/>
<text transform="translate(47.3 487.5) rotate(-90) scale(0.87 1)" font-size="14.3" text-anchor="middle" class="r">50</text>
<text transform="translate(915.5 440)" font-size="16" text-anchor="middle" font-weight="bold">RKLB versus S&amp;P500 return frequency distribution</text>
<g clip-path="url(#c4)">
<rect x="683.5" y="715.5" width="6" height="1" fill="#0000FF" stroke="#000"/>
<line x1="689" y1="716.5" x2="695" y2="716.5" stroke="#000" stroke-width="1"/>
<line x1="699" y1="716.5" x2="705" y2="716.5" stroke="#000" stroke-width="1"/>
<line x1="704" y1="716.5" x2="710" y2="716.5" stroke="#000" stroke-width="1"/>
<line x1="715" y1="716.5" x2="721" y2="716.5" stroke="#000" stroke-width="1"/>
<line x1="720" y1="716.5" x2="726" y2="716.5" stroke="#000" stroke-width="1"/>
<rect x="730.5" y="714.5" width="6" height="2" fill="#0000FF" stroke="#000"/>
<line x1="736" y1="716.5" x2="742" y2="716.5" stroke="#000" stroke-width="1"/>
<rect x="746.5" y="714.5" width="5" height="2" fill="#0000FF" stroke="#000"/>
<line x1="751" y1="716.5" x2="757" y2="716.5" stroke="#000" stroke-width="1"/>
<rect x="762.5" y="713.5" width="5" height="3" fill="#0000FF" stroke="#000"/>
<line x1="767" y1="716.5" x2="773" y2="716.5" stroke="#000" stroke-width="1"/>
<rect x="777.5" y="709.5" width="5" height="7" fill="#0000FF" stroke="#000"/>
<line x1="782" y1="716.5" x2="789" y2="716.5" stroke="#000" stroke-width="1"/>
<rect x="793.5" y="706.5" width="5" height="10" fill="#0000FF" stroke="#000"/>
<line x1="798" y1="716.5" x2="804" y2="716.5" stroke="#000" stroke-width="1"/>
<rect x="809.5" y="689.5" width="5" height="27" fill="#0000FF" stroke="#000"/>
<rect x="814.5" y="715.5" width="5" height="1" fill="#FFFF00" stroke="#000"/>
<rect x="824.5" y="672.5" width="5" height="44" fill="#0000FF" stroke="#000"/>
<rect x="829.5" y="709.5" width="6" height="7" fill="#FFFF00" stroke="#000"/>
<rect x="840.5" y="647.5" width="5" height="69" fill="#0000FF" stroke="#000"/>
<rect x="845.5" y="643.5" width="5" height="73" fill="#FFFF00" stroke="#000"/>
<rect x="855.5" y="624.5" width="6" height="92" fill="#0000FF" stroke="#000"/>
<rect x="861.5" y="454.5" width="5" height="262" fill="#FFFF00" stroke="#000"/>
<rect x="871.5" y="662.5" width="5" height="54" fill="#0000FF" stroke="#000"/>
<rect x="876.5" y="665.5" width="6" height="51" fill="#FFFF00" stroke="#000"/>
<rect x="887.5" y="685.5" width="5" height="31" fill="#0000FF" stroke="#000"/>
<rect x="892.5" y="714.5" width="5" height="2" fill="#FFFF00" stroke="#000"/>
<rect x="902.5" y="695.5" width="6" height="21" fill="#0000FF" stroke="#000"/>
<rect x="908.5" y="715.5" width="5" height="1" fill="#FFFF00" stroke="#000"/>
<rect x="918.5" y="707.5" width="5" height="9" fill="#0000FF" stroke="#000"/>
<line x1="923" y1="716.5" x2="929" y2="716.5" stroke="#000" stroke-width="1"/>
<rect x="934.5" y="709.5" width="5" height="7" fill="#0000FF" stroke="#000"/>
<line x1="939" y1="716.5" x2="945" y2="716.5" stroke="#000" stroke-width="1"/>
<rect x="949.5" y="713.5" width="6" height="3" fill="#0000FF" stroke="#000"/>
<line x1="955" y1="716.5" x2="961" y2="716.5" stroke="#000" stroke-width="1"/>
<rect x="965.5" y="712.5" width="5" height="4" fill="#0000FF" stroke="#000"/>
<line x1="970" y1="716.5" x2="976" y2="716.5" stroke="#000" stroke-width="1"/>
<rect x="981.5" y="715.5" width="5" height="1" fill="#0000FF" stroke="#000"/>
<line x1="986" y1="716.5" x2="992" y2="716.5" stroke="#000" stroke-width="1"/>
<rect x="996.5" y="715.5" width="5" height="1" fill="#0000FF" stroke="#000"/>
<line x1="1001" y1="716.5" x2="1008" y2="716.5" stroke="#000" stroke-width="1"/>
<line x1="1012" y1="716.5" x2="1018" y2="716.5" stroke="#000" stroke-width="1"/>
<line x1="1017" y1="716.5" x2="1023" y2="716.5" stroke="#000" stroke-width="1"/>
<rect x="1028.5" y="715.5" width="5" height="1" fill="#0000FF" stroke="#000"/>
<line x1="1033" y1="716.5" x2="1039" y2="716.5" stroke="#000" stroke-width="1"/>
<rect x="1043.5" y="715.5" width="5" height="1" fill="#0000FF" stroke="#000"/>
<line x1="1048" y1="716.5" x2="1055" y2="716.5" stroke="#000" stroke-width="1"/>
<line x1="1059" y1="716.5" x2="1065" y2="716.5" stroke="#000" stroke-width="1"/>
<line x1="1064" y1="716.5" x2="1070" y2="716.5" stroke="#000" stroke-width="1"/>
<line x1="1074" y1="716.5" x2="1081" y2="716.5" stroke="#000" stroke-width="1"/>
<line x1="1080" y1="716.5" x2="1086" y2="716.5" stroke="#000" stroke-width="1"/>
<rect x="1090.5" y="715.5" width="5" height="1" fill="#0000FF" stroke="#000"/>
<line x1="1095" y1="716.5" x2="1102" y2="716.5" stroke="#000" stroke-width="1"/>
<line x1="1106" y1="716.5" x2="1112" y2="716.5" stroke="#000" stroke-width="1"/>
<line x1="1111" y1="716.5" x2="1117" y2="716.5" stroke="#000" stroke-width="1"/>
<line x1="1121" y1="716.5" x2="1128" y2="716.5" stroke="#000" stroke-width="1"/>
<line x1="1127" y1="716.5" x2="1133" y2="716.5" stroke="#000" stroke-width="1"/>
<rect x="1137.5" y="715.5" width="5" height="1" fill="#0000FF" stroke="#000"/>
<line x1="1142" y1="716.5" x2="1148" y2="716.5" stroke="#000" stroke-width="1"/>
</g>
<rect x="993.5" y="465.5" width="173" height="48" fill="#fff" stroke="#000"/>
<rect x="1005.5" y="477.5" width="9" height="8" fill="#0000FF" stroke="#000"/>
<rect x="1005.5" y="493.5" width="9" height="8" fill="#FFFF00" stroke="#000"/>
<text transform="translate(1026 486.5) scale(0.905 1)" font-size="14.3" text-anchor="start" class="r">RKLB return frequency</text>
<text transform="translate(1026 502.5) scale(0.905 1)" font-size="14.3" text-anchor="start" class="r">GSPC return frequency</text>
<rect x="665.5" y="465.5" width="501" height="253" fill="none" stroke="#000" stroke-width="1"/>
<line x1="665.5" y1="498" x2="665.5" y2="717" stroke="#000" stroke-width="1"/>
<line x1="657.5" y1="716.5" x2="665.5" y2="716.5" stroke="#000" stroke-width="1"/>
<text transform="translate(647.3 716.5) rotate(-90) scale(0.87 1)" font-size="14.3" text-anchor="middle" class="r">0</text>
<line x1="657.5" y1="679.5" x2="665.5" y2="679.5" stroke="#000" stroke-width="1"/>
<text transform="translate(647.3 679.5) rotate(-90) scale(0.87 1)" font-size="14.3" text-anchor="middle" class="r">100</text>
<line x1="657.5" y1="643.5" x2="665.5" y2="643.5" stroke="#000" stroke-width="1"/>
<text transform="translate(647.3 643.5) rotate(-90) scale(0.87 1)" font-size="14.3" text-anchor="middle" class="r">200</text>
<line x1="657.5" y1="607.5" x2="665.5" y2="607.5" stroke="#000" stroke-width="1"/>
<text transform="translate(647.3 607.5) rotate(-90) scale(0.87 1)" font-size="14.3" text-anchor="middle" class="r">300</text>
<line x1="657.5" y1="570.5" x2="665.5" y2="570.5" stroke="#000" stroke-width="1"/>
<text transform="translate(647.3 570.5) rotate(-90) scale(0.87 1)" font-size="14.3" text-anchor="middle" class="r">400</text>
<line x1="657.5" y1="534.5" x2="665.5" y2="534.5" stroke="#000" stroke-width="1"/>
<text transform="translate(647.3 534.5) rotate(-90) scale(0.87 1)" font-size="14.3" text-anchor="middle" class="r">500</text>
<line x1="657.5" y1="498.5" x2="665.5" y2="498.5" stroke="#000" stroke-width="1"/>
<text transform="translate(647.3 498.5) rotate(-90) scale(0.87 1)" font-size="14.3" text-anchor="middle" class="r">600</text>
<text transform="translate(689.3 747.5) scale(0.912 1)" font-size="14.3" text-anchor="middle" class="r">[-0.194,-0.177)</text>
<text transform="translate(798.7 747.5) scale(0.912 1)" font-size="14.3" text-anchor="middle" class="r">[-0.0745,-0.0574)</text>
<text transform="translate(908.2 747.5) scale(0.912 1)" font-size="14.3" text-anchor="middle" class="r">[0.0447,0.0617)</text>
<text transform="translate(1017.6 747.5) scale(0.912 1)" font-size="14.3" text-anchor="middle" class="r">[0.164,0.181)</text>
<text transform="translate(1111.4 747.5) scale(0.912 1)" font-size="14.3" text-anchor="middle" class="r">[0.266,0.283)</text>
<text transform="translate(915.5 779.5) scale(0.905 1)" font-size="14.3" text-anchor="middle" class="r">return</text>
<text transform="translate(616.3 592.5) rotate(-90) scale(0.875 1)" font-size="14.3" text-anchor="middle" class="r">frequency</text>
</svg>
</body></html>
